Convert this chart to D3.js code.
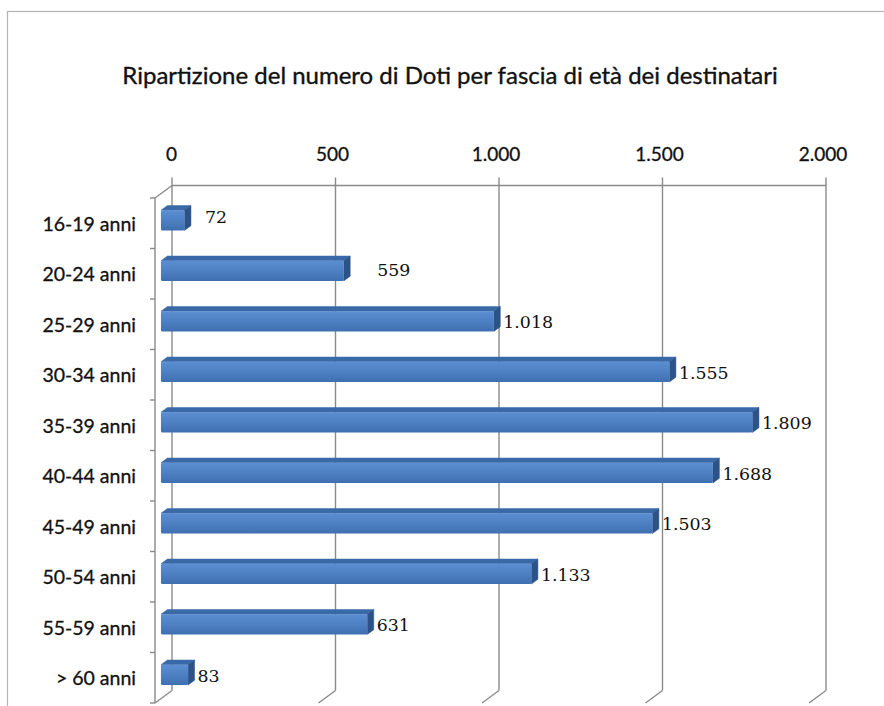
<!DOCTYPE html>
<html><head><meta charset="utf-8">
<script src="https://cdn.jsdelivr.net/npm/d3@7"></script>
<style>body{margin:0;background:#fff}svg{display:block}</style>
</head><body>
<svg id="c" width="884" height="706"></svg>
<script>
const title = "Ripartizione del numero di Doti per fascia di età dei destinatari";
const categories = ["16-19 anni","20-24 anni","25-29 anni","30-34 anni","35-39 anni","40-44 anni","45-49 anni","50-54 anni","55-59 anni","> 60 anni"];
const values = [72, 559, 1018, 1555, 1809, 1688, 1503, 1133, 631, 83];
const tickValues = [0, 500, 1000, 1500, 2000];
const tickLabels = ["0", "500", "1.000", "1.500", "2.000"];
const valueLabels = ["72", "559", "1.018", "1.555", "1.809", "1.688", "1.503", "1.133", "631", "83"];

// label placement tweaks (as in the original)
const labelNudge = {"16-19 anni": [11, -4], "20-24 anni": [24, -2]};

const svg = d3.select("#c");
const defs = svg.append("defs");
const g1 = defs.append("linearGradient").attr("id","front").attr("x1",0).attr("y1",0).attr("x2",0).attr("y2",1);
g1.append("stop").attr("offset","0%").attr("stop-color","#5b8ed2");
g1.append("stop").attr("offset","45%").attr("stop-color","#4f82c4");
g1.append("stop").attr("offset","100%").attr("stop-color","#3e6fb1");

const sans = "Lato, 'Open Sans', sans-serif";
const serif = "'DejaVu Serif', serif";

// chart border
svg.append("rect").attr("x",7.5).attr("y",11.5).attr("width",900).attr("height",720)
  .attr("fill","#fff").attr("stroke","#b4b4b4").attr("stroke-width",1.2);

svg.append("text").attr("x",450).attr("y",84).attr("text-anchor","middle")
  .attr("font-family",sans).attr("font-size",24).attr("fill","#111")
  .attr("stroke","#111").attr("stroke-width",0.35).text(title);

// geometry
const frontX0 = 155, frontTop = 198, frontBottom = 703;
const D = [17, -12.5];
const x = d3.scaleLinear().domain([0, 2000]).range([0, 654]);
const y = d3.scaleBand().domain(categories).range([frontTop, frontBottom]).padding(0);
const grid = "#8a8a8a";
const gw = 1.4;

const gg = svg.append("g");
gg.append("line").attr("x1",frontX0+D[0]).attr("x2",frontX0+D[0]+x(2000))
  .attr("y1",frontTop+D[1]).attr("y2",frontTop+D[1]).attr("stroke",grid).attr("stroke-width",gw);
tickValues.forEach(v => {
  const bx = frontX0 + D[0] + x(v);
  gg.append("line").attr("x1",bx).attr("x2",bx).attr("y1",frontTop+D[1]-8).attr("y2",frontBottom+D[1])
    .attr("stroke",grid).attr("stroke-width",gw);
  gg.append("line").attr("x1",bx).attr("x2",bx-D[0]).attr("y1",frontBottom+D[1]).attr("y2",frontBottom)
    .attr("stroke",grid).attr("stroke-width",gw);
});
gg.append("line").attr("x1",frontX0).attr("x2",frontX0).attr("y1",frontTop).attr("y2",frontBottom)
  .attr("stroke",grid).attr("stroke-width",gw);
gg.append("line").attr("x1",frontX0).attr("x2",frontX0+D[0]).attr("y1",frontTop).attr("y2",frontTop+D[1])
  .attr("stroke",grid).attr("stroke-width",gw);
const yTicks = categories.map(c => y(c)).concat([frontBottom]);
yTicks.forEach(t => {
  gg.append("line").attr("x1",frontX0-5).attr("x2",frontX0).attr("y1",t).attr("y2",t)
    .attr("stroke",grid).attr("stroke-width",gw);
});

// top axis labels
svg.append("g").selectAll("text").data(tickValues).join("text")
  .attr("x",(v,i) => frontX0 + D[0] + x(v) - (i===0?0.5:3))
  .attr("y",161).attr("text-anchor","middle")
  .attr("font-family",sans).attr("font-size",19).attr("fill","#111")
  .attr("stroke","#111").attr("stroke-width",0.3)
  .text((v,i) => tickLabels[i]);

// category labels
svg.append("g").selectAll("text").data(categories).join("text")
  .attr("x",136).attr("y",c => y(c)+y.bandwidth()/2+7.5)
  .attr("text-anchor","end")
  .attr("font-family",sans).attr("font-size",19.5).attr("fill","#111")
  .attr("stroke","#111").attr("stroke-width",0.3)
  .text(c => c);

// bars
const f0 = 0.35, f1 = 0.73;
const barH = y.bandwidth() / 2.5;
const cap = [D[0]*(f1-f0), D[1]*(f1-f0)];
const bars = svg.append("g");
categories.forEach((c, i) => {
  const v = values[i];
  const x0 = frontX0 + D[0]*f0;
  const x1 = x0 + x(v);
  const yc = y(c) + y.bandwidth()/2 + D[1]*f0 + 1.5;
  const yt = yc - barH/2, yb = yc + barH/2;
  bars.append("path").attr("d",
    `M${x0},${yt} L${x0+cap[0]},${yt+cap[1]} L${x1+cap[0]},${yt+cap[1]} L${x1},${yt} Z`)
    .attr("fill","#3a69a8").attr("stroke","#3a69a8").attr("stroke-width",0.5).attr("stroke-linejoin","round");
  bars.append("path").attr("d",
    `M${x1},${yt} L${x1+cap[0]},${yt+cap[1]} L${x1+cap[0]},${yb+cap[1]} L${x1},${yb} Z`)
    .attr("fill","#2c5388").attr("stroke","#2c5388").attr("stroke-width",0.5).attr("stroke-linejoin","round");
  bars.append("rect").attr("x",x0).attr("y",yt).attr("width",x(v)).attr("height",barH)
    .attr("rx",1.5).attr("fill","url(#front)");
  const n = labelNudge[c] || [0, 0];
  svg.append("text").attr("x", x1 + cap[0] + 3 + n[0]).attr("y", y(c)+y.bandwidth()/2 + 4 + n[1])
    .attr("font-family",serif).attr("font-size",17.4)
    .attr("fill","#111").text(valueLabels[i]);
});
</script>
</body></html>
